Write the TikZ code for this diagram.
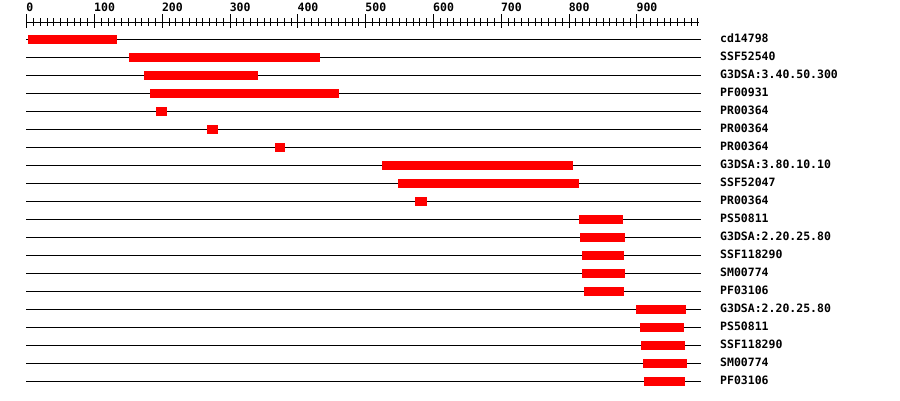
\documentclass[tikz,border=0pt]{standalone}
\usepackage{fontspec}
\setmonofont{DejaVu Sans Mono}
\begin{document}
\begin{tikzpicture}[x=1pt,y=-1pt,
  lab/.style={font=\ttfamily\bfseries\fontsize{11.5}{12}\selectfont, anchor=base west, inner sep=0pt},
  track/.style={black, line width=1pt},
  tick/.style={black, line width=1pt},
  dom/.style={fill=red, draw=none}]
\useasboundingbox (0,0) rectangle (900,400);
% axis
\draw[track] (26.7,22) -- (698.8,22);
\foreach \i in {1,...,99} {
  \pgfmathsetmacro\xx{26.7+6.78*\i}
  \draw[tick] (\xx,18.3) -- (\xx,25.7);
}
\foreach \i/\t in {0/0,1/100,2/200,3/300,4/400,5/500,6/600,7/700,8/800,9/900} {
  \pgfmathsetmacro\xx{26.7+67.8*\i}
  \draw[tick] (\xx,14) -- (\xx,28.3);
  \node[lab] (ax\i) at (\xx-0.5,11.7) {\t};
}
% rows
\foreach \lab/\a/\b [count=\i from 0] in {
  cd14798/28/117,
  SSF52540/129/320,
  G3DSA:3.40.50.300/144/258,
  PF00931/150/339,
  PR00364/156/167,
  PR00364/207/218,
  PR00364/275/285,
  G3DSA:3.80.10.10/382/573,
  SSF52047/398/579,
  PR00364/415/427,
  PS50811/579/623,
  G3DSA:2.20.25.80/580/625,
  SSF118290/582/624,
  SM00774/582/625,
  PF03106/584/624,
  G3DSA:2.20.25.80/636/686,
  PS50811/640/684,
  SSF118290/641/685,
  SM00774/643/687,
  PF03106/644/685} {
  \pgfmathsetmacro\yy{39.3+18*\i}
  \draw[track] (26,\yy) -- (701,\yy);
  \fill[dom] (\a,\yy-4.5) rectangle (\b,\yy+4.5);
  \node[lab] (lab\i) at (720,\yy+3) {\lab};
}
\end{tikzpicture}
\end{document}
